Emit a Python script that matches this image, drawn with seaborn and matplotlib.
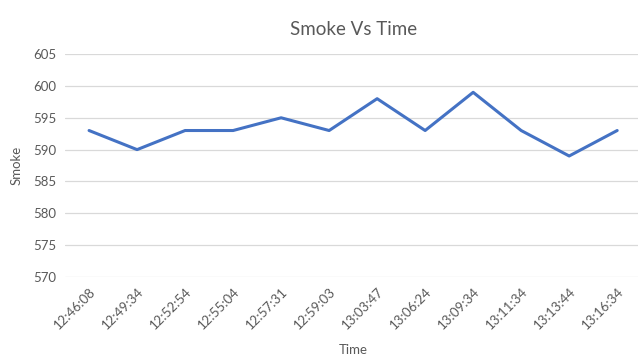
import pandas as pd
import matplotlib.pyplot as plt
import seaborn as sns

times = ['12:46:08', '12:49:34', '12:52:54', '12:55:04', '12:57:31', '12:59:03',
         '13:03:47', '13:06:24', '13:09:34', '13:11:34', '13:13:44', '13:16:34']
smoke = [593, 590, 593, 593, 595, 593, 598, 593, 599, 593, 589, 593]
y_ticks = [570, 575, 580, 585, 590, 595, 600, 605]

df = pd.DataFrame({'Time': times, 'Smoke': smoke})

sns.set_theme(style="white")
plt.rcParams['font.family'] = ['Lato', 'DejaVu Sans']
text_color = '#595959'

fig = plt.figure(figsize=(6.38, 3.56), dpi=100)
ax = fig.add_axes([0.102, 0.222, 0.903, 0.626])

sns.lineplot(data=df, x='Time', y='Smoke', ax=ax, color='#4472C4',
             linewidth=2.2, sort=False)

ax.set_xlim(-0.5, len(times) - 0.5)
ax.set_ylim(570, 605)
ax.set_yticks(y_ticks)
ax.yaxis.grid(True, color='#d9d9d9', linewidth=0.9)
ax.set_axisbelow(True)
for s in ax.spines.values():
    s.set_visible(False)

ax.tick_params(axis='both', length=0, labelsize=9.5, colors=text_color, pad=6)
plt.setp(ax.get_xticklabels(), rotation=45, ha='right', rotation_mode='anchor')

ax.set_title('Smoke Vs Time', fontsize=13.5, color=text_color, pad=14)
ax.set_xlabel('Time', fontsize=9.5, color=text_color, labelpad=9)
ax.set_ylabel('Smoke', fontsize=9.5, color=text_color, labelpad=8)

fig.savefig('out.png', dpi=100)
